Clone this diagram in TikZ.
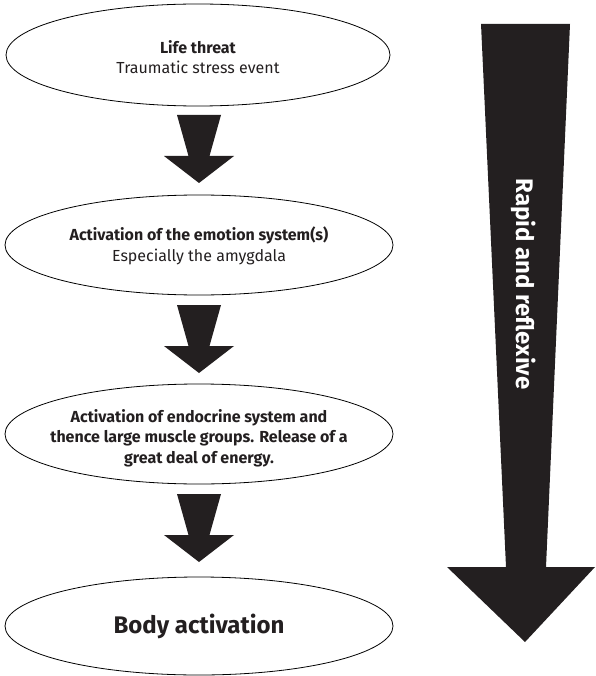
\documentclass[tikz,border=0pt]{standalone}
\usepackage{fontspec}
\setmainfont{Fira Sans}
\usetikzlibrary{shapes.geometric}
\definecolor{ink}{HTML}{231F20}
\tikzset{
  bubble/.style={ellipse, draw=black, line width=0.8pt, inner sep=0pt},
  txt/.style={text=ink, align=center, inner sep=0pt, font=\fontsize{16}{20.5}\selectfont},
  blockarrow/.pic={\fill[ink] (-22,0) -- (22,0) -- (10.5,41) -- (35,41) -- (0,68) -- (-35,41) -- (-10.5,41) -- cycle;}
}
\begin{document}
\begin{tikzpicture}[x=1pt,y=-1pt]
\useasboundingbox (0,0) rectangle (595,676);
% ellipses
\node[bubble, minimum width=384pt, minimum height=102pt] (e1) at (198,55) {};
\node[bubble, minimum width=388pt, minimum height=100pt] (e2) at (199,245) {};
\node[bubble, minimum width=388pt, minimum height=100pt] (e3) at (199,434) {};
\node[bubble, minimum width=388pt, minimum height=98pt] (e4) at (199,626) {};
% texts
\node[txt] (t1) at ([yshift=-2pt]e1.center) {\textbf{Life threat}\\Traumatic stress event};
\node[txt] (t2) at ([yshift=-1pt]e2.center) {\textbf{Activation of the emotion system(s)}\\Especially the amygdala};
\node[txt, font=\bfseries\fontsize{16}{20.5}\selectfont] (t3) at ([yshift=-4pt]e3.center) {Activation of endocrine system and\\thence large muscle groups. Release of a\\great deal of energy.};
\node[txt, font=\bfseries\fontsize{24}{28}\selectfont] (t4) at (e4.center) {Body activation};
% small block arrows
\coordinate (a1) at (199,115);
\coordinate (a2) at (199,305);
\coordinate (a3) at (199,494);
\pic at (a1) {blockarrow};
\pic at (a2) {blockarrow};
\pic at (a3) {blockarrow};
% big arrow
\coordinate (btip) at (525,642);
\fill[ink] (481,24) -- (570,24) -- (546,567) -- (595,567) -- (btip) -- (447,567) -- (506,567) -- cycle;
\node[rotate=-90, text=white, inner sep=0pt, font=\bfseries\fontsize{24}{28}\selectfont] (big) at (524,284) {Rapid and reflexive};
\end{tikzpicture}
\end{document}
